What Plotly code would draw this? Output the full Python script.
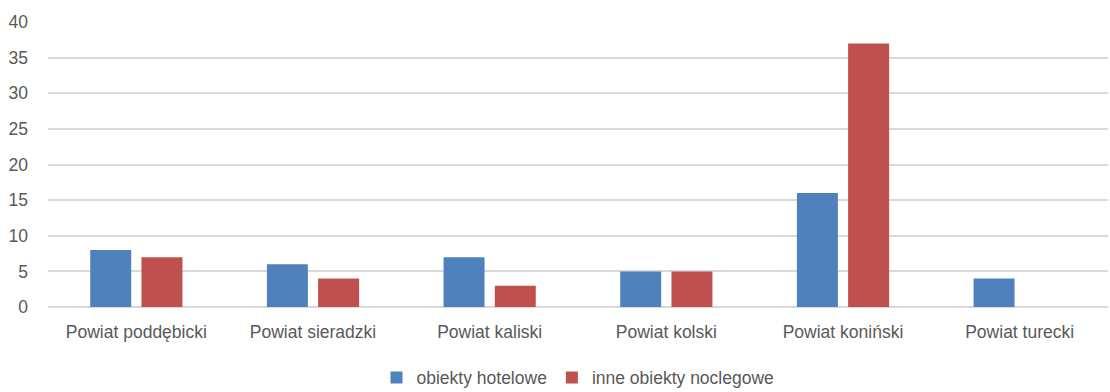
import plotly.graph_objects as go

categories = ["Powiat poddębicki", "Powiat sieradzki", "Powiat kaliski",
              "Powiat kolski", "Powiat koniński", "Powiat turecki"]
hotelowe = [8, 6, 7, 5, 16, 4]
inne = [7, 4, 3, 5, 37, 0]

font_family = "Liberation Sans, Arial, sans-serif"
text_color = "#595959"
fsize = 17.5

fig = go.Figure()
fig.add_trace(go.Bar(name="obiekty hotelowe", x=categories, y=hotelowe,
                     marker=dict(color="#4F81BD", line=dict(width=0))))
fig.add_trace(go.Bar(name="inne obiekty noclegowe", x=categories, y=inne,
                     marker=dict(color="#C0504D", line=dict(width=0))))

fig.update_layout(
    width=1110, height=392,
    margin=dict(l=48, r=2, t=22, b=85, autoexpand=False),
    paper_bgcolor="white", plot_bgcolor="white",
    barmode="group", bargap=0.42, bargroupgap=0.2,
    font=dict(family=font_family, size=fsize, color=text_color),
    legend=dict(orientation="h", x=0.5, xanchor="center",
                y=-0.185, yanchor="top",
                font=dict(size=fsize, color=text_color), itemwidth=30,
                traceorder="normal"),
    xaxis=dict(showgrid=False, showline=False, ticks="", ticklabelstandoff=12,
               tickfont=dict(size=fsize, color=text_color)),
    yaxis=dict(range=[0, 40], dtick=5, showgrid=True, gridcolor="#D9D9D9",
               gridwidth=1.5, zeroline=True, zerolinecolor="#D9D9D9",
               zerolinewidth=1.5, showline=False, ticks="", ticklabelstandoff=19,
               tickfont=dict(size=fsize, color=text_color)),
)

fig.write_html("out.html")
